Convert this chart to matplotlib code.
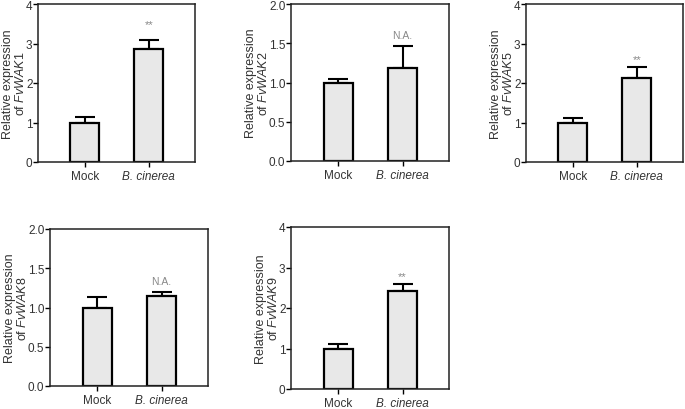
import matplotlib
matplotlib.use("Agg")
import matplotlib.pyplot as plt

plt.rcParams['font.family'] = ['Liberation Sans', 'DejaVu Sans']
plt.rcParams['mathtext.fontset'] = 'custom'
plt.rcParams['mathtext.rm'] = 'Liberation Sans'
plt.rcParams['mathtext.it'] = 'Liberation Sans:italic'

# data
groups = ['Mock', 'B. cinerea']
genes = ['FvWAK1', 'FvWAK2', 'FvWAK5', 'FvWAK8', 'FvWAK9']
means = [[1.0, 2.87], [0.99, 1.18], [1.0, 2.12], [1.0, 1.15], [1.0, 2.43]]
errors = [[0.15, 0.21], [0.05, 0.29], [0.12, 0.28], [0.13, 0.05], [0.1, 0.17]]
marks = ['**', 'N.A.', '**', 'N.A.', '**']
mark_y = [3.5, 1.6, 2.6, 1.34, 2.8]
ymax = [4, 2.0, 4, 2.0, 4]
yticks = [[0, 1, 2, 3, 4], [0.0, 0.5, 1.0, 1.5, 2.0], [0, 1, 2, 3, 4],
          [0.0, 0.5, 1.0, 1.5, 2.0], [0, 1, 2, 3, 4]]

W, H = 685, 410
# axes boxes in pixels: left, right, top, bottom
boxes = [(38, 195, 5, 163), (291, 449, 5, 162), (526, 683, 5, 163),
         (50, 208, 230, 387), (291, 449, 228, 390)]

fig = plt.figure(figsize=(W / 100, H / 100), dpi=100)
txt = '#333333'

for i, g in enumerate(genes):
    l, r, t, b = boxes[i]
    ax = fig.add_axes([l / W, 1 - b / H, (r - l) / W, (b - t) / H])
    x = [0, 1]
    ax.bar(x, means[i], width=0.45, color='#e8e8e8', edgecolor='black',
           linewidth=1.6, zorder=2)
    ax.errorbar(x, means[i], yerr=[[0, 0], errors[i]], fmt='none',
                ecolor='black', elinewidth=1.5, capsize=7, capthick=1.5, zorder=1)
    fs = 8 if marks[i] == '**' else 7.5
    ax.text(1, mark_y[i], marks[i], ha='center', va='center', fontsize=fs, color='#888888')
    ax.set_xlim(-0.73, 1.72)
    ax.set_ylim(0, ymax[i])
    ax.set_yticks(yticks[i])
    if ymax[i] == 2.0:
        ax.set_yticklabels(['%.1f' % v for v in yticks[i]])
    ax.set_xticks(x)
    ax.set_xticklabels(groups)
    ax.get_xticklabels()[1].set_fontstyle('italic')
    ax.tick_params(direction='out', length=3.5, width=1, labelsize=8.5, colors='black',
                   labelcolor=txt)
    ax.tick_params(axis='y', pad=0.5)
    ax.tick_params(axis='x', pad=2.5)
    for s in ax.spines.values():
        s.set_linewidth(1.1)
        s.set_color('#222222')
    ax.set_ylabel('Relative expression\nof $\\mathit{%s}$' % g, fontsize=9, color=txt,
                  labelpad=-1, linespacing=1.0)

fig.savefig('out.png', dpi=100)
